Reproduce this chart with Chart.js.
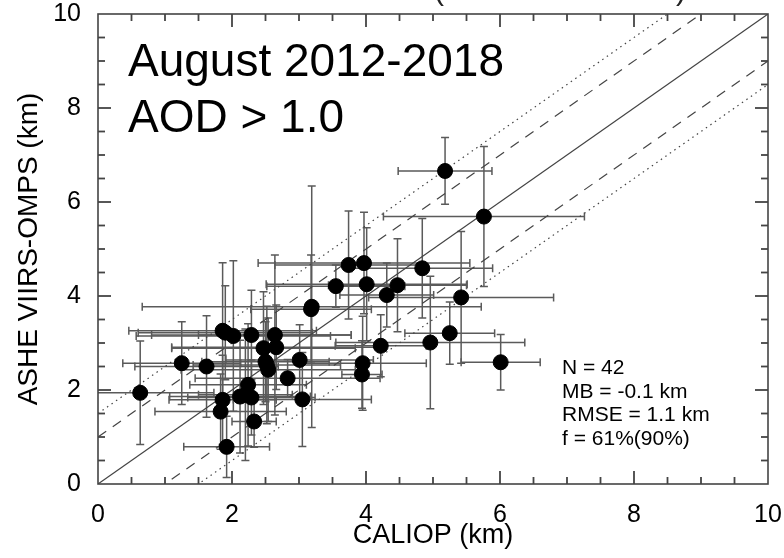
<!DOCTYPE html>
<html>
<head>
<meta charset="utf-8">
<script src="https://cdn.jsdelivr.net/npm/chart.js@4.4.1/dist/chart.umd.min.js"></script>
<style>
  html, body { margin: 0; padding: 0; background: #fff; }
  #wrap { width: 784px; height: 558px; }
</style>
</head>
<body>
<div id="wrap"><canvas id="scatter"></canvas></div>
<script>
// CALIOP vs ASHE heights (km), one entry per case
const caliop    = [0.63, 1.25, 1.62, 1.86, 2.02, 1.86, 1.83, 1.92, 1.90, 2.29, 2.64, 2.47, 2.66, 2.52,
                   2.54, 2.50, 2.83, 2.24, 2.12, 2.29, 2.20, 2.33, 3.01, 3.05, 3.19, 3.18, 3.74, 3.97,
                   4.84, 3.55, 4.01, 4.31, 4.47, 4.22, 4.96, 3.95, 3.94, 5.42, 5.25, 6.01, 5.18, 5.76];
const ashe      = [1.94, 2.57, 2.50, 3.26, 3.15, 1.79, 1.54, 0.79, 3.22, 3.17, 3.17, 2.89, 2.91, 2.53,
                   2.43, 2.60, 2.25, 2.11, 1.86, 1.84, 1.90, 1.33, 2.64, 1.80, 3.77, 3.72, 4.66, 4.70,
                   4.59, 4.21, 4.25, 4.02, 4.23, 2.94, 3.01, 2.57, 2.33, 3.97, 3.21, 2.59, 6.66, 5.69];
const caliopErr = [1.10, 0.88, 1.07, 1.40, 1.45, 0.80, 0.98, 0.64, 1.30, 1.49, 1.14, 1.37, 1.56, 1.10,
                   1.30, 0.95, 1.38, 0.87, 1.05, 0.95, 0.70, 0.33, 1.10, 1.03, 2.53, 0.90, 1.10, 1.58,
                   1.05, 1.03, 1.50, 0.70, 1.03, 0.68, 1.41, 0.95, 0.30, 1.38, 0.67, 0.59, 0.70, 1.50];
const asheErr   = [1.10, 0.88, 1.08, 1.45, 1.60, 0.95, 0.80, 0.65, 1.00, 0.95, 1.70, 1.20, 0.90, 1.25,
                   1.10, 0.85, 0.40, 1.30, 1.20, 0.80, 1.40, 0.55, 0.75, 1.00, 2.57, 1.15, 1.15, 1.08,
                   1.06, 0.45, 1.20, 0.68, 0.99, 0.66, 1.41, 1.00, 0.72, 1.40, 0.66, 0.59, 0.71, 1.49];

// reference lines y = x + offset
const lineEnds = [0, 10];
const lineOffsets = [0, 1, -1, 1.5, -1.5];

// axis ticks: every 0.5 km, labelled every 2 km
const tickValues = [0.5, 1, 1.5, 2, 2.5, 3, 3.5, 4, 4.5, 5, 5.5, 6, 6.5, 7, 7.5, 8, 8.5, 9, 9.5];
const majorTicks = [2, 4, 6, 8];

const headText = ['August 2012-2018', 'AOD > 1.0'];
const statsText = ['N = 42', 'MB = -0.1 km', 'RMSE = 1.1 km', 'f = 61%(90%)'];

const FONT = '"Liberation Sans", Arial, Helvetica, sans-serif';
const AXIS = '#444';

const points = caliop.map((x, i) => ({ x: x, y: ashe[i] }));

function refLine(off, dash) {
    return {
        type: 'line',
        data: lineEnds.map(x => ({ x: x, y: x + off })),
        borderColor: '#444',
        borderWidth: 1.2,
        borderDash: dash,
        pointRadius: 0,
        fill: false,
        order: 1
    };
}

// error bars, drawn under the dots
const errorBars = {
    id: 'errorBars',
    beforeDatasetsDraw(chart) {
        const { ctx, chartArea: a, scales: { x, y } } = chart;
        ctx.save();
        ctx.beginPath();
        ctx.rect(a.left, a.top, a.right - a.left, a.bottom - a.top);
        ctx.clip();
        ctx.strokeStyle = '#5a5a5a';
        ctx.lineWidth = 1.5;
        const cap = 4;
        caliop.forEach((cx, i) => {
            const px = x.getPixelForValue(cx);
            const py = y.getPixelForValue(ashe[i]);
            const x0 = x.getPixelForValue(cx - caliopErr[i]);
            const x1 = x.getPixelForValue(cx + caliopErr[i]);
            const y0 = y.getPixelForValue(ashe[i] - asheErr[i]);
            const y1 = y.getPixelForValue(ashe[i] + asheErr[i]);
            ctx.beginPath();
            ctx.moveTo(x0, py); ctx.lineTo(x1, py);
            ctx.moveTo(x0, py - cap); ctx.lineTo(x0, py + cap);
            ctx.moveTo(x1, py - cap); ctx.lineTo(x1, py + cap);
            ctx.moveTo(px, y0); ctx.lineTo(px, y1);
            ctx.moveTo(px - cap, y0); ctx.lineTo(px + cap, y0);
            ctx.moveTo(px - cap, y1); ctx.lineTo(px + cap, y1);
            ctx.stroke();
        });
        ctx.restore();
    }
};

// box, inward ticks on all sides, and the text blocks
const frame = {
    id: 'frame',
    afterDatasetsDraw(chart) {
        const { ctx, chartArea: a, scales: { x, y } } = chart;
        ctx.save();
        ctx.setLineDash([]);
        ctx.strokeStyle = AXIS;
        ctx.lineWidth = 1.6;
        ctx.strokeRect(a.left, a.top, a.right - a.left, a.bottom - a.top);
        ctx.lineWidth = 1.8;
        for (let k = 0; k < tickValues.length; k++) {
            const v = tickValues[k];
            const len = majorTicks.indexOf(v) >= 0 ? 13 : 7;
            const px = x.getPixelForValue(v);
            const py = y.getPixelForValue(v);
            ctx.beginPath();
            ctx.moveTo(px, a.bottom);
            ctx.lineTo(px, a.bottom - len);
            ctx.stroke();
            ctx.beginPath();
            ctx.moveTo(px, a.top);
            ctx.lineTo(px, a.top + len);
            ctx.stroke();
            ctx.beginPath();
            ctx.moveTo(a.left, py);
            ctx.lineTo(a.left + len, py);
            ctx.stroke();
            ctx.beginPath();
            ctx.moveTo(a.right, py);
            ctx.lineTo(a.right - len, py);
            ctx.stroke();
        }

        ctx.fillStyle = '#000';
        ctx.textAlign = 'left';
        ctx.textBaseline = 'alphabetic';
        ctx.font = '46px ' + FONT;
        headText.forEach((t, i) => ctx.fillText(t, a.left + 30, 76 + i * 56));

        ctx.font = '21px ' + FONT;
        statsText.forEach((t, i) => ctx.fillText(t, a.left + 464, 374 + i * 23.5));

        // bottom of the cut-off title above the plot
        ctx.font = '30px ' + FONT;
        ctx.fillStyle = '#222';
        ctx.fillText('(', 434, 0);
        ctx.fillText(')', 676, 0);
        ctx.restore();
    }
};

new Chart(document.getElementById('scatter'), {
    type: 'scatter',
    data: {
        datasets: [
            {
                type: 'scatter',
                data: points,
                backgroundColor: '#000',
                borderColor: '#000',
                pointRadius: 7.5,
                pointHoverRadius: 7.5,
                order: 0
            },
            refLine(lineOffsets[0], []),
            refLine(lineOffsets[1], [10, 8]),
            refLine(lineOffsets[2], [10, 8]),
            refLine(lineOffsets[3], [1.5, 4]),
            refLine(lineOffsets[4], [1.5, 4])
        ]
    },
    options: {
        responsive: true,
        maintainAspectRatio: false,
        animation: false,
        layout: { padding: { top: 14, right: 16, left: 0, bottom: 0 } },
        plugins: {
            legend: { display: false },
            tooltip: { enabled: false }
        },
        scales: {
            x: {
                type: 'linear',
                min: 0,
                max: 10,
                grid: { display: false },
                border: { display: false },
                ticks: {
                    stepSize: 2,
                    padding: 8,
                    color: '#000',
                    font: { family: FONT, size: 25 },
                    maxRotation: 0
                },
                title: {
                    display: true,
                    text: 'CALIOP (km)',
                    color: '#000',
                    font: { family: FONT, size: 27 },
                    padding: { top: 0, bottom: 6 }
                },
                afterFit(scale) {
                    scale.height = 74;
                    scale.paddingLeft = 0;
                    scale.paddingRight = 16;
                }
            },
            y: {
                type: 'linear',
                min: 0,
                max: 10,
                grid: { display: false },
                border: { display: false },
                ticks: {
                    stepSize: 2,
                    padding: 9,
                    color: '#000',
                    font: { family: FONT, size: 25 }
                },
                title: {
                    display: true,
                    text: 'ASHE VIIRS-OMPS (km)',
                    color: '#000',
                    font: { family: FONT, size: 28 },
                    padding: { top: 12, bottom: 0 }
                },
                afterFit(scale) {
                    scale.width = 98;
                    scale.paddingTop = 0;
                    scale.paddingBottom = 0;
                }
            }
        }
    },
    plugins: [errorBars, frame]
});
</script>
</body>
</html>
